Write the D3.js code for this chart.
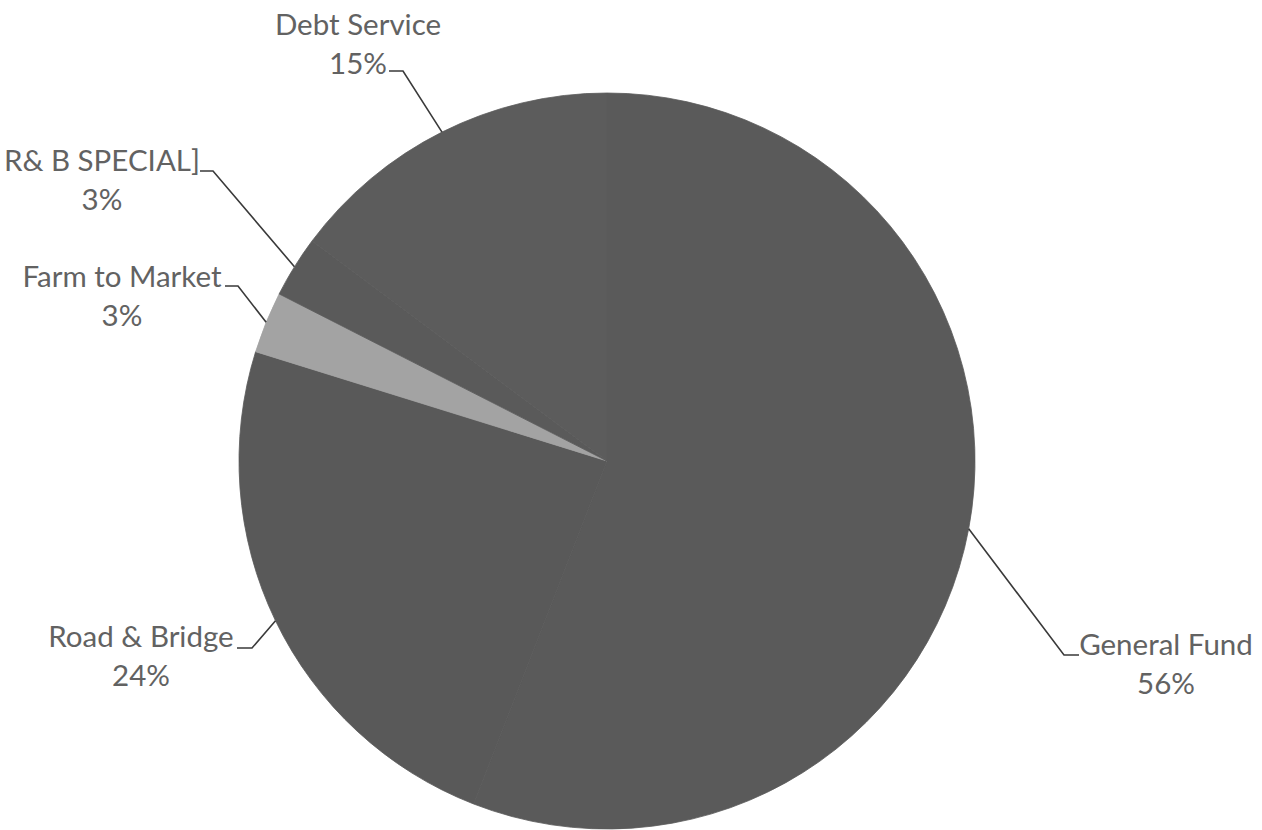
<!DOCTYPE html>
<html>
<head>
<meta charset="utf-8">
<script src="https://cdn.jsdelivr.net/npm/d3@7"></script>
<style>
  html, body { margin: 0; padding: 0; background: #ffffff; }
  svg { display: block; }
</style>
</head>
<body>
<svg id="chart" width="1262" height="830"></svg>
<script>
// ---- data ----
const categories = ["General Fund", "Road & Bridge", "Farm to Market", "R& B SPECIAL]", "Debt Service"];
const values = [55.9, 23.9, 2.7, 2.7, 14.8];
const percentLabels = ["56%", "24%", "3%", "3%", "15%"];
const sliceColors = ["#5a5a5a", "#595959", "#a3a3a3", "#5a5a5a", "#5c5c5c"];

// ---- layout (label anchors: centre x, first baseline; elbow of leader line) ----
const labelLayout = [
  { x: 1166, y: 655, elbowX: 1079, elbowY: 655, endX: 1064 },
  { x: 141,  y: 647, elbowX: 237,  elbowY: 648, endX: 252 },
  { x: 122,  y: 287, elbowX: 225,  elbowY: 286, endX: 238 },
  { x: 102,  y: 171, elbowX: 200,  elbowY: 171, endX: 213 },
  { x: 358,  y: 35,  elbowX: 389,  elbowY: 71,  endX: 403 }
];

const cx = 607, cy = 461, r = 368;
const svg = d3.select("#chart");
const g = svg.append("g").attr("transform", `translate(${cx},${cy})`);

const pie = d3.pie().sort(null).value(d => d.value).startAngle(0).endAngle(2 * Math.PI);
const data = categories.map((c, i) => ({ name: c, value: values[i], pct: percentLabels[i], color: sliceColors[i] }));
const arcs = pie(data);

const arc = d3.arc().innerRadius(0).outerRadius(r);
const edgeArc = d3.arc().innerRadius(r).outerRadius(r);

g.selectAll("path.slice")
  .data(arcs)
  .join("path")
  .attr("class", "slice")
  .attr("d", arc)
  .attr("fill", d => d.data.color)
  .attr("stroke", d => d.data.color)
  .attr("stroke-width", 0.8)
  .attr("stroke-linejoin", "round");

// leader lines
const leader = svg.append("g");
arcs.forEach((a, i) => {
  const L = labelLayout[i];
  const [ex, ey] = edgeArc.centroid(a);
  const pts = [[cx + ex, cy + ey], [L.endX, L.elbowY], [L.elbowX, L.elbowY]];
  leader.append("path")
    .attr("d", d3.line()(pts))
    .attr("fill", "none")
    .attr("stroke", "#3a3a3a")
    .attr("stroke-width", 1.6);
});

// labels
const labels = svg.append("g")
  .attr("font-family", "Lato, 'Open Sans', sans-serif")
  .attr("font-size", 29.5)
  .attr("fill", "#626262")
  .attr("text-anchor", "middle");

arcs.forEach((a, i) => {
  const L = labelLayout[i];
  labels.append("text").attr("x", L.x).attr("y", L.y).text(a.data.name);
  labels.append("text").attr("x", L.x).attr("y", L.y + 39).text(a.data.pct);
});
</script>
</body>
</html>
